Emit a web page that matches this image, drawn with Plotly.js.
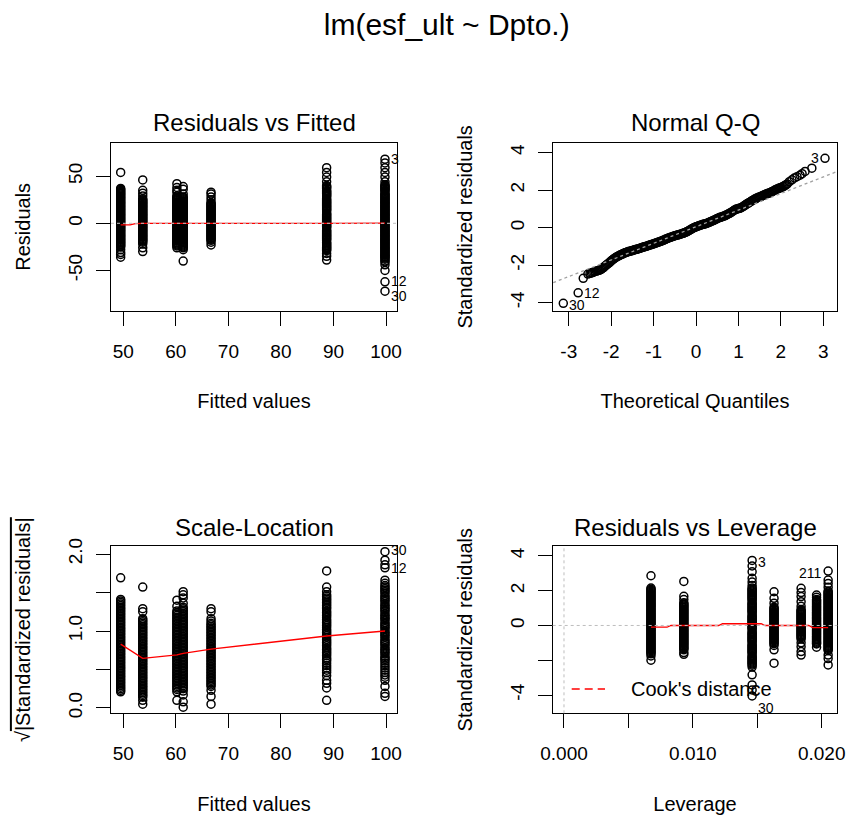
<!DOCTYPE html>
<html><head><meta charset="utf-8">
<script src="https://cdn.plot.ly/plotly-3.0.1.min.js"></script>
<style>html,body{margin:0;padding:0;background:#fff}#chart{width:849px;height:821px}</style>
</head><body><div id="chart"></div>
<script>
// ---------- Residuals vs Fitted ----------
const rvfFitted = [49.5, 53.7, 60.2, 61.4, 66.7, 88.7, 99.8];
const rvfRes1 = [54, 37, 36, 35, 34, 33, 32, 31, 30, 29, 28, 27, 26, 25, 24, 23, 22, 21, 20, 19, 18, 17, 16, 15, 14, 13, 12, 11, 10, 9, 8, 7, 6, 5, 4, 3, 2, 1, 0, -1, -2, -3, -4, -5, -6, -7, -8, -9, -10, -11, -12, -13, -14, -15, -16, -17, -18, -19, -20, -21, -22, -23, -24, -25, -28, -31, -33, -36];
const rvfRes2 = [46, 35, 32, 29, 26, 25, 24, 23, 22, 21, 20, 19, 18, 17, 16, 15, 14, 13, 12, 11, 10, 9, 8, 7, 6, 5, 4, 3, 2, 1, 0, -1, -2, -3, -4, -5, -6, -7, -8, -9, -10, -11, -12, -13, -14, -15, -16, -17, -18, -19, -20, -22, -26, -30];
const rvfRes3 = [42, 38, 35, 33, 29, 28, 27, 26, 25, 24, 23, 22, 21, 20, 19, 18, 17, 16, 15, 14, 13, 12, 11, 10, 9, 8, 7, 6, 5, 4, 3, 2, 1, 0, -1, -2, -3, -4, -5, -6, -7, -8, -9, -10, -11, -12, -13, -14, -15, -16, -17, -18, -19, -20, -21, -22, -23, -24, -26];
const rvfRes4 = [39, 36, 31, 28, 27, 26, 25, 24, 23, 22, 21, 20, 19, 18, 17, 16, 15, 14, 13, 12, 11, 10, 9, 8, 7, 6, 5, 4, 3, 2, 1, 0, -1, -2, -3, -4, -5, -6, -7, -8, -9, -10, -11, -12, -13, -14, -15, -16, -17, -18, -19, -20, -21, -22, -23, -24, -25, -26, -28, -40];
const rvfRes5 = [33, 31, 28, 25, 22, 21, 20, 19, 18, 17, 16, 15, 14, 13, 12, 11, 10, 9, 8, 7, 6, 5, 4, 3, 2, 1, 0, -1, -2, -3, -4, -5, -6, -7, -8, -9, -10, -11, -12, -13, -14, -15, -16, -17, -18, -20, -23];
const rvfRes6 = [59, 54, 49, 44, 40, 39, 38, 37, 35, 34, 33, 32, 31, 30, 29, 28, 26, 25, 24, 23, 22, 21, 20, 19, 18, 17, 16, 15, 14, 13, 11, 10, 9, 8, 7, 6, 5, 4, 3, 2, 1, 0, -1, -2, -3, -4, -5, -7, -8, -9, -10, -11, -12, -13, -14, -15, -16, -17, -18, -20, -21, -22, -23, -24, -25, -26, -27, -28, -29, -32, -35, -39];
const rvfRes7 = [68, 64, 59, 54, 49, 44, 41, 40, 39, 38, 37, 36, 35, 34, 32, 31, 30, 29, 28, 27, 26, 25, 24, 23, 22, 21, 20, 19, 18, 17, 16, 15, 14, 13, 12, 11, 10, 9, 8, 7, 6, 5, 4, 3, 2, 1, 0, -1, -2, -3, -4, -5, -6, -7, -8, -9, -10, -11, -12, -13, -14, -15, -16, -17, -18, -19, -20, -21, -22, -23, -24, -25, -26, -27, -28, -29, -30, -31, -32, -33, -34, -35, -36, -37, -38, -40, -41, -44, -50, -62, -72];
const rvfGroups = [rvfRes1, rvfRes2, rvfRes3, rvfRes4, rvfRes5, rvfRes6, rvfRes7];
const rvfSmoothX = [49.5, 51.3, 52.3, 53.7, 60.2, 61.4, 66.7, 88.7, 99.8];
const rvfSmoothY = [-1.6, -1.6, -0.3, 0, 0, 0.1, 0, 0, 0.1];
const rvfLabelText = ["3", "12", "30"];
const rvfLabelY = [68, -62, -72];
const rvfXTicks = [50, 60, 70, 80, 90, 100];
const rvfXTickText = ["50", "60", "70", "80", "90", "100"];
const rvfYTicks = [-50, 0, 50];
const rvfYTickText = ["-50", "0", "50"];

// ---------- Normal Q-Q ----------
const qqTheo = [-3.13, -2.78, -2.66, -2.55, -2.50, -2.47, -2.44, -2.41, -2.38, -2.35, -2.32, -2.30, -2.275, -2.25, -2.225, -2.20, -2.175, -2.15, -2.125, -2.10, -2.075, -2.05, -2.025, -2.00, -1.975, -1.95, -1.925, -1.90, -1.875, -1.85, -1.825, -1.80, -1.775, -1.75, -1.725, -1.70, -1.675, -1.65, -1.625, -1.60, -1.575, -1.55, -1.525, -1.50, -1.475, -1.45, -1.425, -1.40, -1.375, -1.35, -1.325, -1.30, -1.275, -1.25, -1.225, -1.20, -1.175, -1.15, -1.125, -1.10, -1.075, -1.05, -1.025, -1.00, -0.975, -0.95, -0.925, -0.90, -0.875, -0.85, -0.825, -0.80, -0.775, -0.75, -0.725, -0.70, -0.675, -0.65, -0.625, -0.60, -0.575, -0.55, -0.525, -0.50, -0.475, -0.45, -0.425, -0.40, -0.375, -0.35, -0.325, -0.30, -0.275, -0.25, -0.225, -0.20, -0.175, -0.15, -0.125, -0.10, -0.075, -0.05, -0.025, 0.00, 0.025, 0.05, 0.075, 0.10, 0.125, 0.15, 0.175, 0.20, 0.225, 0.25, 0.275, 0.30, 0.325, 0.35, 0.375, 0.40, 0.425, 0.45, 0.475, 0.50, 0.525, 0.55, 0.575, 0.60, 0.625, 0.65, 0.675, 0.70, 0.725, 0.75, 0.775, 0.80, 0.825, 0.85, 0.875, 0.90, 0.925, 0.95, 0.975, 1.00, 1.025, 1.05, 1.075, 1.10, 1.125, 1.15, 1.175, 1.20, 1.225, 1.25, 1.275, 1.30, 1.325, 1.35, 1.375, 1.40, 1.425, 1.45, 1.475, 1.50, 1.525, 1.55, 1.575, 1.60, 1.625, 1.65, 1.675, 1.70, 1.725, 1.75, 1.775, 1.80, 1.825, 1.85, 1.875, 1.90, 1.925, 1.95, 1.975, 2.00, 2.025, 2.05, 2.075, 2.10, 2.125, 2.15, 2.20, 2.26, 2.32, 2.38, 2.45, 2.50, 2.57, 2.73, 3.04];
const qqStd = [-4.03, -3.47, -2.70, -2.47, -2.43, -2.41, -2.39, -2.36, -2.33, -2.31, -2.29, -2.28, -2.26, -2.23, -2.19, -2.15, -2.11, -2.05, -2.01, -1.96, -1.92, -1.87, -1.82, -1.77, -1.72, -1.68, -1.64, -1.60, -1.56, -1.53, -1.50, -1.47, -1.44, -1.42, -1.39, -1.36, -1.34, -1.32, -1.30, -1.28, -1.26, -1.25, -1.23, -1.22, -1.20, -1.18, -1.16, -1.15, -1.13, -1.12, -1.10, -1.08, -1.06, -1.04, -1.02, -1.01, -0.99, -0.97, -0.95, -0.93, -0.91, -0.90, -0.88, -0.86, -0.84, -0.82, -0.80, -0.78, -0.76, -0.74, -0.72, -0.70, -0.67, -0.65, -0.62, -0.60, -0.57, -0.55, -0.53, -0.51, -0.49, -0.47, -0.45, -0.43, -0.41, -0.40, -0.38, -0.37, -0.35, -0.33, -0.31, -0.30, -0.27, -0.25, -0.22, -0.20, -0.16, -0.13, -0.09, -0.06, -0.03, 0.00, 0.02, 0.05, 0.07, 0.09, 0.11, 0.13, 0.15, 0.17, 0.18, 0.20, 0.21, 0.23, 0.25, 0.28, 0.30, 0.33, 0.35, 0.38, 0.40, 0.43, 0.46, 0.49, 0.51, 0.54, 0.55, 0.57, 0.59, 0.61, 0.63, 0.66, 0.69, 0.72, 0.75, 0.78, 0.81, 0.85, 0.89, 0.93, 0.96, 0.99, 1.00, 1.02, 1.03, 1.05, 1.08, 1.12, 1.15, 1.19, 1.23, 1.27, 1.30, 1.34, 1.37, 1.41, 1.44, 1.48, 1.51, 1.54, 1.57, 1.60, 1.62, 1.64, 1.66, 1.69, 1.71, 1.74, 1.76, 1.79, 1.81, 1.83, 1.85, 1.87, 1.90, 1.93, 1.96, 1.99, 2.02, 2.05, 2.07, 2.10, 2.12, 2.14, 2.16, 2.19, 2.22, 2.25, 2.29, 2.33, 2.45, 2.55, 2.65, 2.72, 2.80, 2.88, 3.00, 3.17, 3.70];
const qqLineX = [-3.5, 3.5];
const qqLineY = [-3.045, 3.15];
const qqLabelText = ["30", "12", "3"];
const qqLabelX = [-3.13, -2.78, 3.04];
const qqLabelY = [-4.03, -3.47, 3.70];
const qqXTicks = [-3, -2, -1, 0, 1, 2, 3];
const qqXTickText = ["-3", "-2", "-1", "0", "1", "2", "3"];
const qqYTicks = [-4, -2, 0, 2, 4];
const qqYTickText = ["-4", "-2", "0", "2", "4"];

// ---------- Scale-Location ----------
const slSqrt1 = [1.69, 1.41, 1.39, 1.37, 1.35, 1.33, 1.31, 1.29, 1.27, 1.25, 1.23, 1.21, 1.19, 1.17, 1.15, 1.13, 1.11, 1.09, 1.07, 1.05, 1.03, 1.01, 0.99, 0.97, 0.95, 0.93, 0.91, 0.89, 0.87, 0.85, 0.83, 0.81, 0.79, 0.77, 0.75, 0.73, 0.71, 0.69, 0.67, 0.65, 0.63, 0.61, 0.59, 0.57, 0.55, 0.53, 0.51, 0.49, 0.47, 0.45, 0.43, 0.41, 0.39, 0.37, 0.35, 0.33, 0.31, 0.29, 0.27, 0.25, 0.23, 0.21];
const slSqrt2 = [1.57, 1.29, 1.25, 1.16, 1.14, 1.12, 1.10, 1.08, 1.06, 1.04, 1.02, 1.00, 0.98, 0.96, 0.94, 0.92, 0.90, 0.88, 0.86, 0.84, 0.82, 0.80, 0.78, 0.76, 0.74, 0.72, 0.70, 0.68, 0.66, 0.64, 0.62, 0.60, 0.58, 0.56, 0.54, 0.52, 0.50, 0.48, 0.46, 0.44, 0.42, 0.40, 0.38, 0.36, 0.34, 0.32, 0.30, 0.28, 0.26, 0.24, 0.22, 0.20, 0.18, 0.16, 0.14, 0.10, 0.05];
const slSqrt3 = [1.40, 1.32, 1.26, 1.24, 1.22, 1.20, 1.18, 1.16, 1.14, 1.12, 1.10, 1.08, 1.06, 1.04, 1.02, 1.00, 0.98, 0.96, 0.94, 0.92, 0.90, 0.88, 0.86, 0.84, 0.82, 0.80, 0.78, 0.76, 0.74, 0.72, 0.70, 0.68, 0.66, 0.64, 0.62, 0.60, 0.58, 0.56, 0.54, 0.52, 0.50, 0.48, 0.46, 0.44, 0.42, 0.40, 0.38, 0.36, 0.34, 0.32, 0.30, 0.28, 0.26, 0.24, 0.21, 0.10];
const slSqrt4 = [1.51, 1.47, 1.43, 1.36, 1.31, 1.29, 1.27, 1.25, 1.23, 1.21, 1.19, 1.17, 1.15, 1.13, 1.11, 1.09, 1.07, 1.05, 1.03, 1.01, 0.99, 0.97, 0.95, 0.93, 0.91, 0.89, 0.87, 0.85, 0.83, 0.81, 0.79, 0.77, 0.75, 0.73, 0.71, 0.69, 0.67, 0.65, 0.63, 0.61, 0.59, 0.57, 0.55, 0.53, 0.51, 0.49, 0.47, 0.45, 0.43, 0.41, 0.39, 0.37, 0.35, 0.33, 0.31, 0.29, 0.27, 0.25, 0.22, 0.17, 0.08, 0.01];
const slSqrt5 = [1.29, 1.25, 1.16, 1.13, 1.10, 1.08, 1.06, 1.04, 1.02, 1.00, 0.98, 0.96, 0.94, 0.92, 0.90, 0.88, 0.86, 0.84, 0.82, 0.80, 0.78, 0.76, 0.74, 0.72, 0.70, 0.68, 0.66, 0.64, 0.62, 0.60, 0.58, 0.56, 0.54, 0.52, 0.50, 0.48, 0.46, 0.44, 0.42, 0.40, 0.38, 0.36, 0.34, 0.32, 0.30, 0.28, 0.23, 0.15, 0.05];
const slSqrt6 = [1.78, 1.57, 1.51, 1.47, 1.45, 1.43, 1.41, 1.39, 1.37, 1.35, 1.33, 1.31, 1.29, 1.26, 1.24, 1.22, 1.20, 1.18, 1.15, 1.13, 1.11, 1.09, 1.07, 1.05, 1.02, 1.00, 0.98, 0.96, 0.94, 0.92, 0.89, 0.87, 0.85, 0.83, 0.81, 0.78, 0.76, 0.74, 0.72, 0.70, 0.68, 0.65, 0.63, 0.61, 0.58, 0.55, 0.52, 0.49, 0.46, 0.42, 0.36, 0.32, 0.26, 0.10];
const slSqrt7 = [2.03, 1.92, 1.86, 1.82, 1.66, 1.62, 1.59, 1.57, 1.55, 1.53, 1.51, 1.49, 1.46, 1.44, 1.42, 1.40, 1.38, 1.35, 1.33, 1.31, 1.29, 1.27, 1.25, 1.22, 1.20, 1.18, 1.16, 1.14, 1.11, 1.09, 1.07, 1.05, 1.03, 1.00, 0.98, 0.96, 0.94, 0.92, 0.89, 0.87, 0.85, 0.83, 0.81, 0.78, 0.76, 0.74, 0.72, 0.70, 0.67, 0.65, 0.63, 0.61, 0.58, 0.55, 0.52, 0.49, 0.46, 0.43, 0.40, 0.36, 0.28, 0.19, 0.15];
const slGroups = [slSqrt1, slSqrt2, slSqrt3, slSqrt4, slSqrt5, slSqrt6, slSqrt7];
const slSmoothX = [49.5, 53.7, 60.2, 61.4, 66.7, 88.7, 99.8];
const slSmoothY = [0.83, 0.645, 0.69, 0.71, 0.765, 0.935, 1.0];
const slLabelText = ["30", "12"];
const slLabelY = [2.03, 1.86];
const slYTicks = [0, 0.5, 1, 1.5, 2];
const slYTickText = ["0.0", "", "1.0", "", "2.0"];

// ---------- Residuals vs Leverage ----------
const rvlLeverage = [0.00675, 0.0093, 0.0146, 0.0163, 0.0184, 0.0196, 0.0205];
const rvlStd1 = [2.86, 2.15, 2.09, 2.03, 1.97, 1.91, 1.85, 1.79, 1.73, 1.67, 1.61, 1.55, 1.49, 1.43, 1.37, 1.31, 1.25, 1.19, 1.13, 1.07, 1.01, 0.95, 0.89, 0.83, 0.77, 0.71, 0.65, 0.59, 0.53, 0.47, 0.41, 0.35, 0.29, 0.23, 0.17, 0.11, 0.05, -0.01, -0.07, -0.13, -0.19, -0.25, -0.31, -0.37, -0.43, -0.49, -0.55, -0.61, -0.67, -0.73, -0.79, -0.85, -0.91, -0.97, -1.03, -1.09, -1.15, -1.21, -1.27, -1.33, -1.39, -1.45, -1.51, -1.57, -1.63, -1.75, -2.0];
const rvlStd2 = [2.53, 1.68, 1.49, 1.30, 1.24, 1.18, 1.12, 1.06, 1.00, 0.94, 0.88, 0.82, 0.76, 0.70, 0.64, 0.58, 0.52, 0.46, 0.40, 0.34, 0.28, 0.22, 0.16, 0.10, 0.04, -0.02, -0.08, -0.14, -0.20, -0.26, -0.32, -0.38, -0.44, -0.50, -0.56, -0.62, -0.68, -0.74, -0.80, -0.86, -0.92, -0.98, -1.04, -1.10, -1.16, -1.22, -1.28, -1.34, -1.40, -1.56, -1.66];
const rvlStd3 = [3.74, 3.42, 3.09, 2.71, 2.50, 2.30, 2.16, 2.10, 2.04, 1.98, 1.92, 1.86, 1.80, 1.74, 1.68, 1.62, 1.56, 1.50, 1.44, 1.32, 1.26, 1.20, 1.14, 1.08, 1.02, 0.96, 0.90, 0.84, 0.78, 0.72, 0.60, 0.54, 0.48, 0.42, 0.36, 0.30, 0.24, 0.18, 0.12, 0.06, 0.00, -0.06, -0.12, -0.18, -0.24, -0.36, -0.42, -0.48, -0.54, -0.60, -0.66, -0.72, -0.78, -0.84, -0.90, -0.96, -1.08, -1.14, -1.20, -1.26, -1.32, -1.38, -1.44, -1.50, -1.56, -1.62, -1.74, -1.80, -1.86, -1.92, -1.98, -2.04, -2.10, -2.16, -2.22, -2.28, -2.39, -2.84, -3.42, -3.71, -4.05];
const rvlStd4 = [1.94, 1.56, 1.28, 1.05, 0.99, 0.93, 0.87, 0.81, 0.75, 0.69, 0.63, 0.57, 0.51, 0.45, 0.39, 0.33, 0.27, 0.21, 0.15, 0.09, 0.03, -0.03, -0.09, -0.15, -0.21, -0.27, -0.33, -0.39, -0.45, -0.51, -0.57, -0.63, -0.69, -0.75, -0.81, -0.87, -0.93, -0.99, -1.05, -1.15, -1.40, -2.17];
const rvlStd5 = [2.14, 1.89, 1.66, 1.37, 1.10, 0.92, 0.86, 0.80, 0.74, 0.68, 0.62, 0.56, 0.50, 0.44, 0.38, 0.32, 0.26, 0.20, 0.14, 0.08, 0.02, -0.04, -0.10, -0.16, -0.22, -0.28, -0.34, -0.40, -0.46, -0.52, -0.58, -0.64, -0.70, -0.78, -1.00, -1.22, -1.50, -1.70];
const rvlStd6 = [1.75, 1.62, 1.50, 1.44, 1.38, 1.32, 1.26, 1.20, 1.14, 1.08, 1.02, 0.96, 0.90, 0.84, 0.78, 0.72, 0.66, 0.60, 0.54, 0.48, 0.42, 0.36, 0.30, 0.24, 0.18, 0.12, 0.06, 0.00, -0.06, -0.12, -0.18, -0.24, -0.30, -0.36, -0.42, -0.48, -0.54, -0.60, -0.66, -0.72, -0.78, -0.84, -0.90, -0.96, -1.02, -1.06, -1.25];
const rvlStd7 = [3.13, 2.61, 2.42, 2.20, 1.98, 1.92, 1.86, 1.80, 1.74, 1.68, 1.62, 1.56, 1.50, 1.44, 1.38, 1.32, 1.26, 1.20, 1.14, 1.08, 1.02, 0.96, 0.90, 0.84, 0.78, 0.72, 0.66, 0.60, 0.54, 0.48, 0.42, 0.36, 0.30, 0.24, 0.18, 0.12, 0.06, 0.00, -0.06, -0.12, -0.18, -0.24, -0.30, -0.36, -0.42, -0.48, -0.54, -0.60, -0.66, -0.72, -0.78, -0.84, -0.90, -0.96, -1.02, -1.08, -1.14, -1.20, -1.26, -1.32, -1.38, -1.44, -1.70, -1.90, -2.27];
const rvlGroups = [rvlStd1, rvlStd2, rvlStd3, rvlStd4, rvlStd5, rvlStd6, rvlStd7];
const rvlSmoothX = [0.00675, 0.0080, 0.0083, 0.0093, 0.0120, 0.0123, 0.0146, 0.0153, 0.0156, 0.0163, 0.0184, 0.0190, 0.0193, 0.0196, 0.0205];
const rvlSmoothY = [-0.1, -0.1, 0, 0, 0, 0.1, 0.1, 0.1, 0, 0, 0, 0, -0.12, -0.12, -0.12];
const rvlLabelText = ["3", "211", "30"];
const rvlLabelX = [0.0146, 0.0205, 0.0146];
const rvlLabelY = [3.74, 3.13, -4.05];
const rvlXTicks = [0, 0.005, 0.010, 0.015, 0.020];
const rvlXTickText = ["0.000", "", "0.010", "", "0.020"];
const rvlYTicks = [-4, -2, 0, 2, 4];
const rvlYTickText = ["-4", "", "0", "2", "4"];

// ---------- build ----------
const FONT = "Liberation Sans, Arial, sans-serif";
const mk = {symbol: "circle-open", size: 8, color: "#000", line: {width: 1.5, color: "#000"}};

function groupTrace(xs, groups, xa, ya) {
  const x = [], y = [];
  groups.forEach((g, i) => g.forEach(v => { x.push(xs[i]); y.push(v); }));
  return {type: "scatter", mode: "markers", x, y, xaxis: xa, yaxis: ya, marker: mk, showlegend: false, hoverinfo: "skip"};
}
function lineTrace(x, y, xa, ya, color, dash) {
  return {type: "scatter", mode: "lines", x, y, xaxis: xa, yaxis: ya, line: {color, width: 1.3, dash: dash || "solid"}, showlegend: false, hoverinfo: "skip"};
}

const traces = [
  groupTrace(rvfFitted, rvfGroups, "x", "y"),
  lineTrace(rvfSmoothX, rvfSmoothY, "x", "y", "#FF0000"),
  {type: "scatter", mode: "markers", x: qqTheo, y: qqStd, xaxis: "x2", yaxis: "y2", marker: mk, showlegend: false, hoverinfo: "skip"},
  lineTrace(qqLineX, qqLineY, "x2", "y2", "#A0A0A0", "dot"),
  groupTrace(rvfFitted, slGroups, "x3", "y3"),
  lineTrace(slSmoothX, slSmoothY, "x3", "y3", "#FF0000"),
  groupTrace(rvlLeverage, rvlGroups, "x4", "y4"),
  lineTrace(rvlSmoothX, rvlSmoothY, "x4", "y4", "#FF0000")
];

const W = 849, H = 821;
const colL = [111 / W, 397 / W], colR = [552.7 / W, 837.3 / W];
const rowT = [1 - 311 / H, 1 - 142.7 / H], rowB = [1 - 713.3 / H, 1 - 546 / H];

function xax(domain, range, vals, text, anchor, title) {
  return {domain, range, anchor, tickmode: "array", tickvals: vals, ticktext: text,
    ticks: "outside", ticklen: 14, tickwidth: 1, tickcolor: "#000",
    showline: true, linecolor: "#000", linewidth: 1, mirror: true,
    showgrid: false, zeroline: false, tickfont: {family: FONT, size: 19, color: "#000"},
    ticklabelstandoff: 9,
    title: {text: title, font: {family: FONT, size: 20, color: "#000"}, standoff: 33}};
}
function yax(domain, range, vals, text, anchor, title) {
  return {domain, range, anchor, tickmode: "array", tickvals: vals, ticktext: text,
    ticks: "outside", ticklen: 14, tickwidth: 1, tickcolor: "#000",
    showline: true, linecolor: "#000", linewidth: 1, mirror: true,
    showgrid: false, zeroline: false, tickangle: -90,
    tickfont: {family: FONT, size: 19, color: "#000"},
    ticklabelstandoff: 6,
    title: {text: title, font: {family: FONT, size: 20, color: "#000"}, standoff: 29}};
}

const annotations = [];
function panelTitle(text, xc, yc) {
  annotations.push({text, xref: "paper", yref: "paper", x: xc / W, y: 1 - yc / H, xanchor: "center", yanchor: "middle",
    showarrow: false, font: {family: FONT, size: 24, color: "#000"}});
}
panelTitle("Residuals vs Fitted", 254, 122);
panelTitle("Normal Q-Q", 695, 122);
panelTitle("Scale-Location", 254, 527);
panelTitle("Residuals vs Leverage", 695, 527);

function idLabel(text, x, y, xa, ya, side, yshift) {
  annotations.push({text, x, y, xref: xa, yref: ya, showarrow: false,
    xanchor: side === "right" ? "left" : "right", xshift: side === "right" ? 4 : -4, yshift: yshift || 0,
    font: {family: FONT, size: 14, color: "#000"}});
}
const rvfShift = [0, 1, -5];
rvfLabelText.forEach((t, i) => idLabel(t, rvfFitted[6], rvfLabelY[i], "x", "y", "right", rvfShift[i]));
qqLabelText.forEach((t, i) => idLabel(t, qqLabelX[i], qqLabelY[i], "x2", "y2", i < 2 ? "right" : "left", i === 0 ? -2 : 0));
const slShift = [2, -3];
slLabelText.forEach((t, i) => idLabel(t, rvfFitted[6], slLabelY[i], "x3", "y3", "right", slShift[i]));
rvlLabelText.forEach((t, i) => idLabel(t, rvlLabelX[i], rvlLabelY[i], "x4", "y4", i === 1 ? "left" : "right", i === 2 ? -12 : -2));

// legend for Cook's distance (bottom-left of panel 4)
annotations.push({text: "Cook's distance", xref: "paper", yref: "paper", x: 629 / W, y: 1 - 689 / H,
  xanchor: "left", yanchor: "middle", showarrow: false, font: {family: FONT, size: 20, color: "#000"}});

const shapes = [
  {type: "line", xref: "x domain", x0: 0, x1: 1, yref: "y", y0: 0, y1: 0, line: {color: "#BEBEBE", width: 1, dash: "dot"}},
  {type: "line", xref: "x4 domain", x0: 0, x1: 1, yref: "y4", y0: 0, y1: 0, line: {color: "#BEBEBE", width: 1, dash: "dot"}},
  {type: "line", xref: "x4", x0: 0, x1: 0, yref: "y4 domain", y0: 0, y1: 1, line: {color: "#BEBEBE", width: 1, dash: "dot"}},
  {type: "line", xref: "paper", yref: "paper", x0: 571.7 / W, x1: 605 / W, y0: 1 - 689 / H, y1: 1 - 689 / H, line: {color: "#FF0000", width: 1.3, dash: "8px,5px"}}
];

const layout = {
  width: W, height: H, margin: {l: 0, r: 0, t: 0, b: 0},
  paper_bgcolor: "#fff", plot_bgcolor: "#fff", showlegend: false,
  font: {family: FONT, color: "#000"},
  title: {text: "lm(esf_ult ~ Dpto.)", x: 446.7 / W, xanchor: "center", y: 1 - 24 / H, yanchor: "middle",
    font: {family: FONT, size: 30, color: "#000"}},
  xaxis: xax(colL, [47.66, 102.09], rvfXTicks, rvfXTickText, "y", "Fitted values"),
  yaxis: yax(rowT, [-93, 85.5], rvfYTicks, rvfYTickText, "x", "Residuals"),
  xaxis2: xax(colR, [-3.38, 3.33], qqXTicks, qqXTickText, "y2", "Theoretical Quantiles"),
  yaxis2: yax(rowT, [-4.44, 4.53], qqYTicks, qqYTickText, "x2", "Standardized residuals"),
  xaxis3: xax(colL, [47.66, 102.09], rvfXTicks, rvfXTickText, "y3", "Fitted values"),
  yaxis3: yax(rowB, [-0.069, 2.104], slYTicks, slYTickText, "x3", "√<span style='text-decoration:overline'>|Standardized residuals|</span>"),
  xaxis4: xax(colR, [-0.000876, 0.02121], rvlXTicks, rvlXTickText, "y4", "Leverage"),
  yaxis4: yax(rowB, [-5.05, 4.57], rvlYTicks, rvlYTickText, "x4", "Standardized residuals"),
  annotations, shapes
};

Plotly.newPlot("chart", traces, layout, {staticPlot: true, displayModeBar: false});
</script></body></html>
